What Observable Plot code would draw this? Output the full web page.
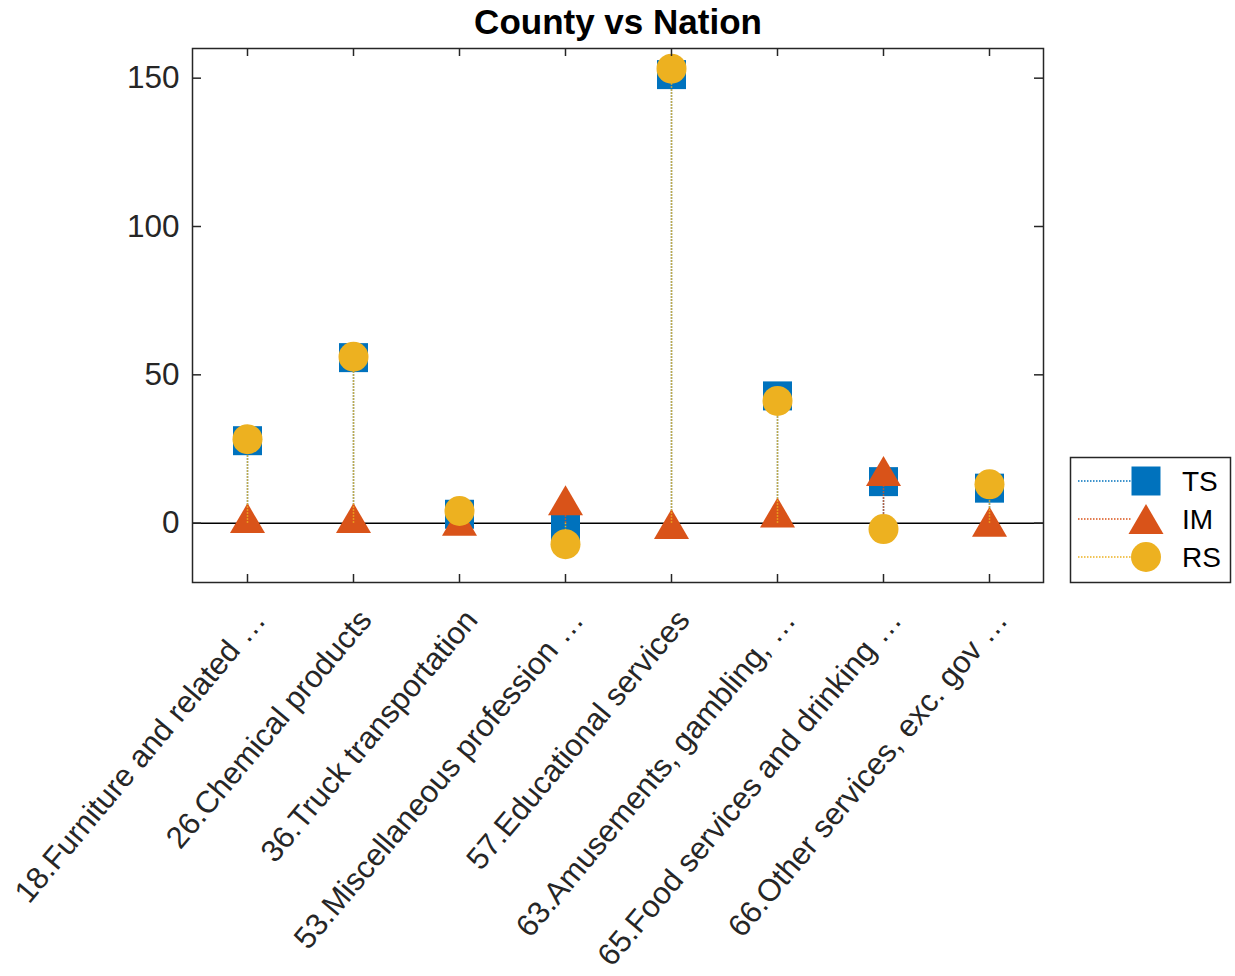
<!DOCTYPE html>
<html>
<head>
<meta charset="utf-8">
<script src="https://cdn.jsdelivr.net/npm/d3@7"></script>
<script src="https://cdn.jsdelivr.net/npm/@observablehq/plot@0.6"></script>
<style>
  html, body { margin: 0; padding: 0; background: #fff; }
  #chart { position: relative; width: 1235px; height: 976px; }
</style>
</head>
<body>
<div id="chart"></div>
<script>
// ---- data ----
const categories = [
  "18.Furniture and related \u2026",
  "26.Chemical products",
  "36.Truck transportation",
  "53.Miscellaneous profession \u2026",
  "57.Educational services",
  "63.Amusements, gambling, \u2026",
  "65.Food services and drinking \u2026",
  "66.Other services, exc. gov \u2026"
];
const seriesNames = ["TS", "IM", "RS"];
const TS = [27.8, 55.8, 3.0, -1.5, 151.2, 42.9, 14.0, 11.8];
const IM = [1.7, 1.7, 0.8, 7.7, -0.3, 3.6, 17.6, 0.5];
const RS = [28.3, 56.1, 4.1, -7.1, 153.2, 41.2, -2.0, 13.1];
const yTicks = [0, 50, 100, 150];
const yDomain = [-20, 160];
const titleText = "County vs Nation";

// ---- styles ----
const colors = {TS: "#0072BD", IM: "#D95319", RS: "#EDB120"};
const axisColor = "#262626";
const fontFamily = "'Liberation Sans', Arial, Helvetica, sans-serif";
const W = 1235, H = 976;
const mL = 192, mR = 192, mT = 48, mB = 394;
const plotW = W - mL - mR, plotH = H - mT - mB;

// custom marker shapes (MATLAB-like)
const squareSym = {draw(ctx) { const h = 14.5; ctx.moveTo(-h, -h); ctx.lineTo(h, -h); ctx.lineTo(h, h); ctx.lineTo(-h, h); ctx.closePath(); }};
const triSym = {draw(ctx) { const w = 17.5, h = 15; ctx.moveTo(0, -h); ctx.lineTo(w, h); ctx.lineTo(-w, h); ctx.closePath(); }};
const circSym = {draw(ctx) { const r = 15; ctx.moveTo(r, 0); ctx.arc(0, 0, r, 0, 2 * Math.PI); ctx.closePath(); }};
const symbols = {TS: squareSym, IM: triSym, RS: circSym};
const seriesValues = {TS, IM, RS};
const stemDash = "1.5,1.5";

function seriesMarks(name) {
  const data = categories.map((c, i) => ({c, v: seriesValues[name][i]}));
  return [
    Plot.ruleX(data, {x: "c", y1: 0, y2: "v", stroke: colors[name], strokeWidth: 1.5, strokeDasharray: stemDash}),
    Plot.dot(data, {x: "c", y: "v", fill: colors[name], stroke: "none", symbol: symbols[name], r: 15})
  ];
}

const chart = Plot.plot({
  width: W,
  height: H,
  marginLeft: mL,
  marginRight: mR,
  marginTop: mT,
  marginBottom: mB,
  style: {fontFamily, fontSize: "31px", color: axisColor, background: "#fff"},
  x: {type: "point", domain: categories, padding: 0.5, axis: null},
  y: {domain: yDomain, axis: null},
  marks: [
    Plot.ruleY([0], {stroke: "#000", strokeWidth: 1.5}),
    ...seriesMarks("TS"),
    ...seriesMarks("IM"),
    ...seriesMarks("RS"),
    // inward ticks on all four sides
    Plot.tickY(yTicks, {y: d => d, stroke: axisColor, strokeWidth: 1.5, insetRight: plotW - 9}),
    Plot.tickY(yTicks, {y: d => d, stroke: axisColor, strokeWidth: 1.5, insetLeft: plotW - 9}),
    Plot.tickX(categories, {x: d => d, stroke: axisColor, strokeWidth: 1.5, insetTop: plotH - 8}),
    Plot.tickX(categories, {x: d => d, stroke: axisColor, strokeWidth: 1.5, insetBottom: plotH - 8}),
    Plot.frame({stroke: axisColor, strokeWidth: 1.5}),
    Plot.axisY({ticks: yTicks, tickSize: 0, tickPadding: 13, fontSize: 31.5, color: axisColor, label: null}),
    Plot.axisX({tickSize: 0, tickRotate: -50, tickPadding: 32, dx: 12, fontSize: 31, color: axisColor, label: null}),
    Plot.text([titleText], {frameAnchor: "top", lineAnchor: "middle", dy: -26, fontSize: 35, fontWeight: "bold", fill: "#000"})
  ]
});

document.getElementById("chart").appendChild(chart);

// ---- legend ----
const svg = d3.select(chart);
const lg = svg.append("g").attr("class", "legend");
lg.append("rect").attr("x", 1070.5).attr("y", 457.5).attr("width", 160).attr("height", 125)
  .attr("fill", "#fff").attr("stroke", axisColor).attr("stroke-width", 1.5);
const rowY = [481, 519, 557];
seriesNames.forEach((name, i) => {
  const y = rowY[i];
  lg.append("line").attr("x1", 1078).attr("x2", 1132).attr("y1", y).attr("y2", y)
    .attr("stroke", colors[name]).attr("stroke-width", 1.5).attr("stroke-dasharray", stemDash);
  const p = d3.path();
  symbols[name].draw(p);
  lg.append("path").attr("d", p.toString()).attr("transform", `translate(1146,${y})`).attr("fill", colors[name]);
  lg.append("text").attr("x", 1182).attr("y", y).attr("dy", "0.35em")
    .attr("text-anchor", "start").attr("font-family", fontFamily)
    .attr("font-size", 28).attr("fill", "#000").text(name);
});
</script>
</body>
</html>
